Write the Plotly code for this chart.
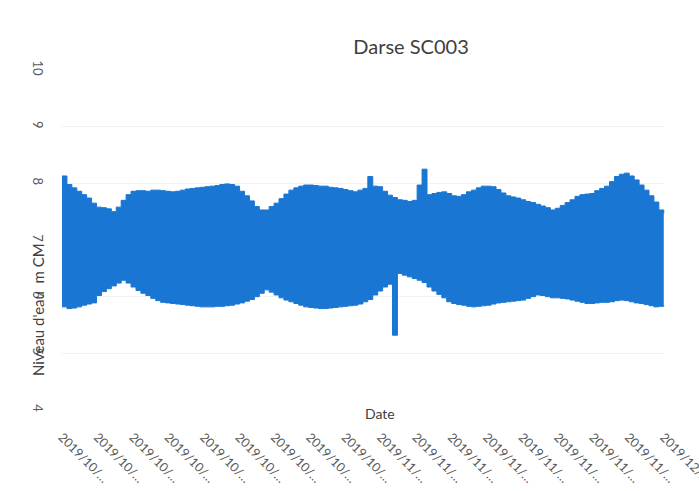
import pandas as pd
import plotly.graph_objects as go

# Half-daily water level extremes at Darse SC003 (m CM)
start = pd.Timestamp("2019-10-01 00:00")
period_hours = 12

high_water = [
    8.13, 7.98, 7.92, 7.86, 7.80, 7.74, 7.65, 7.58, 7.57, 7.55,
    7.50, 7.58, 7.70, 7.80, 7.86, 7.87, 7.87, 7.86, 7.88, 7.88,
    7.87, 7.86, 7.85, 7.86, 7.88, 7.90, 7.91, 7.92, 7.93, 7.94,
    7.95, 7.96, 7.98, 7.99, 7.98, 7.95, 7.86, 7.78, 7.69, 7.59,
    7.53, 7.53, 7.59, 7.65, 7.73, 7.81, 7.88, 7.92, 7.95, 7.97,
    7.97, 7.96, 7.95, 7.95, 7.93, 7.92, 7.91, 7.89, 7.87, 7.85,
    7.88, 7.91, 8.12, 7.95, 7.94, 7.86, 7.79, 7.75, 7.71, 7.70,
    7.68, 7.70, 7.97, 8.25, 7.80, 7.82, 7.84, 7.85, 7.82, 7.78,
    7.77, 7.80, 7.85, 7.88, 7.92, 7.95, 7.95, 7.94, 7.89, 7.83,
    7.78, 7.76, 7.74, 7.71, 7.68, 7.66, 7.63, 7.60, 7.57, 7.53,
    7.56, 7.61, 7.66, 7.71, 7.77, 7.80, 7.81, 7.82, 7.87, 7.91,
    7.95, 8.03, 8.12, 8.16, 8.18, 8.13, 8.06, 7.97, 7.88, 7.78,
    7.67, 7.53, 7.47,
]

low_water = [
    5.82, 5.79, 5.80, 5.82, 5.85, 5.87, 5.89, 6.02, 6.09, 6.14,
    6.19, 6.24, 6.29, 6.24, 6.17, 6.11, 6.06, 6.02, 5.97, 5.93,
    5.90, 5.89, 5.88, 5.87, 5.86, 5.85, 5.84, 5.83, 5.82, 5.82,
    5.82, 5.83, 5.83, 5.84, 5.85, 5.87, 5.89, 5.92, 5.95, 6.00,
    6.06, 6.12, 6.08, 6.03, 5.98, 5.94, 5.91, 5.88, 5.85, 5.82,
    5.81, 5.80, 5.79, 5.79, 5.80, 5.81, 5.82, 5.83, 5.84, 5.85,
    5.87, 5.91, 5.95, 6.03, 6.10, 6.17, 6.22, 5.32, 6.41, 6.38,
    6.35, 6.32, 6.29, 6.25, 6.17, 6.10, 6.04, 5.98, 5.91, 5.88,
    5.86, 5.85, 5.83, 5.82, 5.83, 5.84, 5.85, 5.87, 5.89, 5.90,
    5.91, 5.92, 5.93, 5.94, 5.97, 6.00, 6.03, 6.02, 6.00, 5.98,
    5.98, 5.97, 5.96, 5.94, 5.92, 5.90, 5.88, 5.88, 5.89, 5.90,
    5.90, 5.91, 5.93, 5.94, 5.93, 5.91, 5.89, 5.88, 5.86, 5.84,
    5.82, 5.83, 5.85,
]

times = [start + pd.Timedelta(hours=period_hours * i) for i in range(len(high_water))]

# Category-style date labels, 18 evenly spaced across the record
n_ticks = 18
span = times[-1] - times[0]
tick_vals = [times[0] + span * k / (n_ticks - 1) for k in range(n_ticks)]
tick_text = [t.strftime("%Y/%m/") + "…" for t in tick_vals]

y_ticks = [4, 5, 6, 7, 8, 9, 10]

blue = "#1976D2"
font = "Lato, 'Open Sans', sans-serif"

fig = go.Figure()
fig.add_trace(go.Scatter(
    x=times, y=high_water, mode="lines", line=dict(color=blue, width=1, shape="hv"),
    hoverinfo="skip", showlegend=False,
))
fig.add_trace(go.Scatter(
    x=times, y=low_water, mode="lines", line=dict(color=blue, width=1, shape="hv"),
    fill="tonexty", fillcolor=blue, showlegend=False,
))

plot_l, plot_r, plot_t, plot_b = 62, 34, 70, 81
plot_w = 699 - plot_l - plot_r
plot_h = 491 - plot_t - plot_b

fig.update_layout(
    width=699, height=491,
    margin=dict(l=plot_l, r=plot_r, t=plot_t, b=plot_b),
    paper_bgcolor="white", plot_bgcolor="white",
    font=dict(family=font, color="#595959"),
    title=dict(text="Darse SC003", x=411 / 699, xanchor="center", y=1 - 47 / 491,
               yanchor="middle", font=dict(size=20, color="#404040", family=font)),
    xaxis=dict(
        range=[times[0], times[-1] + pd.Timedelta(hours=3)], automargin=False,
        tickmode="array", tickvals=tick_vals, ticktext=tick_text,
        ticklabeloverflow="allow",
        tickangle=45, tickfont=dict(size=12.5, color="#595959"), showgrid=False,
        zeroline=False, showline=False, ticks="outside", ticklen=14,
        tickcolor="rgba(0,0,0,0)",
    ),
    yaxis=dict(
        range=[4, 10], automargin=False, tickmode="array", tickvals=y_ticks, tickangle=90,
        tickfont=dict(size=13, color="#595959"), showgrid=True, gridcolor="#f3f3f3",
        zeroline=False, showline=False, ticks="outside", ticklen=12,
        tickcolor="rgba(0,0,0,0)",
    ),
    annotations=[
        dict(text="Date", showarrow=False, font=dict(size=14, color="#404040"),
             x=(380 - plot_l) / plot_w, xref="x domain",
             y=(410 - 413) / plot_h, yref="y domain",
             xanchor="center", yanchor="middle"),
        dict(text="Niveau d'eau  m CM", textangle=-90, showarrow=False,
             font=dict(size=15, color="#404040"),
             x=(38 - plot_l) / plot_w, xref="x domain",
             y=(410 - 310) / plot_h, yref="y domain",
             xanchor="center", yanchor="middle"),
    ],
)

fig.write_html("out.html")
